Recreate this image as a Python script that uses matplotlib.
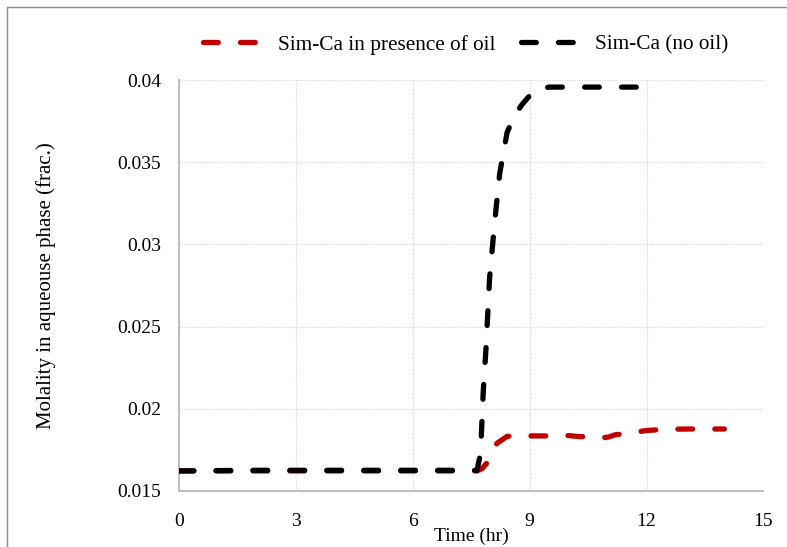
import numpy as np
import matplotlib.pyplot as plt
from matplotlib.patches import Rectangle

plt.rcParams['font.family'] = ['Liberation Serif', 'DejaVu Serif']

# Sim-Ca in presence of oil
t_oil = [0, 1, 2, 3, 4, 5, 6, 7, 7.65, 7.78, 7.97, 8.16, 8.42, 8.7, 9, 9.5, 10, 10.3, 10.7,
         10.95, 11.05, 11.2, 11.5, 12, 12.5, 13, 13.5, 14]
ca_oil = [0.01622, 0.01622, 0.01622, 0.01622, 0.01622, 0.01622, 0.01622, 0.01622, 0.01622,
          0.01636, 0.0169, 0.0179, 0.01832, 0.01838, 0.01835, 0.01835, 0.01837, 0.0183, 0.01834,
          0.01825, 0.0183, 0.01842, 0.0185, 0.01868, 0.01875, 0.01877, 0.01877, 0.01877]

# Sim-Ca (no oil)
t_noil = [0, 1, 2, 3, 4, 5, 6, 7, 7.65, 7.74, 7.81, 7.88, 7.97, 8.1, 8.23, 8.42, 8.6, 8.8,
          9.13, 9.5, 10, 11, 12]
ca_noil = [0.01622, 0.01624, 0.01626, 0.01626, 0.01626, 0.01626, 0.01626, 0.01626, 0.01626,
           0.0173, 0.0211, 0.0237, 0.0279, 0.0313, 0.0343, 0.0368, 0.0378, 0.0385,
           0.0394, 0.03957, 0.03957, 0.03957, 0.03957]

fig = plt.figure(figsize=(7.87, 5.47), dpi=100)
ax = fig.add_axes([0.2275, 0.1024, 0.7425, 0.7513])

dash = (0, (2.8, 4.2))
ax.plot(t_oil, ca_oil, color='#c00000', lw=3.8, linestyle=dash, dash_capstyle='round',
        label='Sim-Ca in presence of oil', zorder=3)
ax.plot(t_noil, ca_noil, color='black', lw=3.8, linestyle=dash, dash_capstyle='round',
        label='Sim-Ca (no oil)', zorder=4)

ax.set_xlim(0, 15)
ax.set_ylim(0.015, 0.04)
ax.set_xticks([0, 3, 6, 9, 12, 15])
ax.set_yticks([0.015, 0.02, 0.025, 0.03, 0.035, 0.04])
ax.set_yticklabels(['0.015', '0.02', '0.025', '0.03', '0.035', '0.04'])
ax.grid(True, color='#d9d9d9', linestyle=(0, (1, 1)), lw=0.9)
ax.set_axisbelow(True)
for s in ['top', 'right']:
    ax.spines[s].set_visible(False)
for s in ['left', 'bottom']:
    ax.spines[s].set_color('#bfbfbf')
    ax.spines[s].set_linewidth(1.5)
ax.tick_params(length=0, labelsize=14, colors='black')
ax.tick_params(axis='y', pad=13)
ax.tick_params(axis='x', pad=16)

ax.set_xlabel('Time (hr)', fontsize=14, labelpad=-2)
ax.set_ylabel('Molality in aqueouse phase (frac.)', fontsize=15)
ax.yaxis.set_label_coords(-0.21, 0.5)

ax.legend(loc='lower center', bbox_to_anchor=(0.491, 1.015), ncol=2, frameon=False,
          fontsize=15.3, handlelength=2.8, columnspacing=1.2, handletextpad=0.7)

fig.patches.append(Rectangle((7 / 787, -0.05), 1.1, 1.05 - 7 / 547, transform=fig.transFigure,
                             fill=False, edgecolor='#8c8c8c', lw=1.0))

fig.savefig('out.png', dpi=100)
